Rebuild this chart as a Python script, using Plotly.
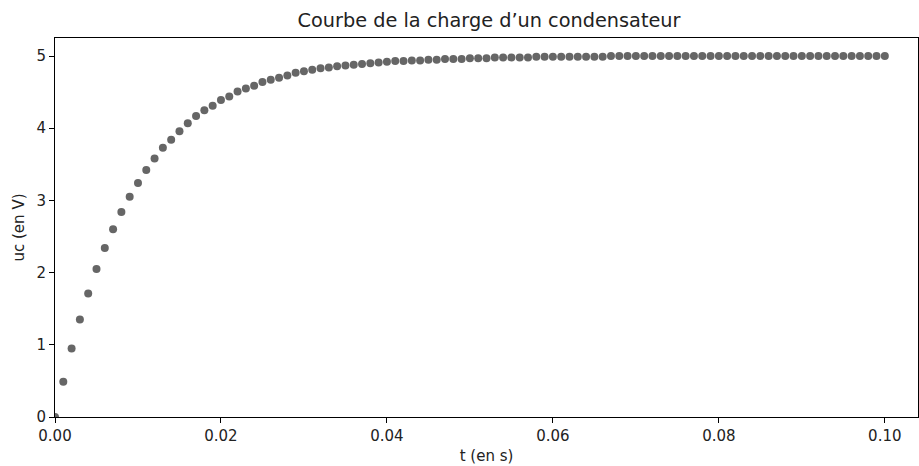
import plotly.graph_objects as go

t_values = [round(i * 0.001, 3) for i in range(101)]
uc_values = [
    0.00, 0.49, 0.95, 1.35, 1.71, 2.05, 2.34, 2.60, 2.84, 3.05,
    3.24, 3.42, 3.58, 3.73, 3.84, 3.96, 4.07, 4.17, 4.25, 4.31,
    4.39, 4.44, 4.51, 4.55, 4.59, 4.64, 4.67, 4.70, 4.73, 4.77,
    4.79, 4.81, 4.83, 4.84, 4.86, 4.87, 4.88, 4.89, 4.90, 4.91,
    4.92, 4.93, 4.93, 4.94, 4.94, 4.95, 4.95, 4.96, 4.96, 4.96,
    4.97, 4.97, 4.97, 4.98, 4.98, 4.98, 4.98, 4.98, 4.99, 4.99,
    4.99, 4.99, 4.99, 4.99, 4.99, 4.99, 4.99, 5.00, 5.00, 5.00,
    5.00, 5.00, 5.00, 5.00, 5.00, 5.00, 5.00, 5.00, 5.00, 5.00,
    5.00, 5.00, 5.00, 5.00, 5.00, 5.00, 5.00, 5.00, 5.00, 5.00,
    5.00, 5.00, 5.00, 5.00, 5.00, 5.00, 5.00, 5.00, 5.00, 5.00,
    5.00,
]
x_ticks = [0.0, 0.02, 0.04, 0.06, 0.08, 0.10]
x_tick_labels = ["0.00", "0.02", "0.04", "0.06", "0.08", "0.10"]
y_ticks = [0, 1, 2, 3, 4, 5]

fig = go.Figure(go.Scatter(
    x=t_values, y=uc_values, mode="markers",
    marker=dict(color="#666666", size=8, line=dict(width=0)),
    cliponaxis=True, showlegend=False,
))

W, H = 919, 466
font = "DejaVu Sans"
axis_common = dict(
    showline=True, linecolor="black", linewidth=1, mirror=True,
    ticks="outside", ticklen=5, tickwidth=1, tickcolor="black",
    showgrid=False, zeroline=False, automargin=False,
    tickfont=dict(family=font, size=15, color="#222222"),
)
fig.update_layout(
    width=W, height=H,
    margin=dict(l=55, r=1, t=38, b=49),
    paper_bgcolor="white", plot_bgcolor="white",
    title=dict(text="Courbe de la charge d\u2019un condensateur",
               x=489 / W, xanchor="center", y=1 - 20 / H, yanchor="middle",
               font=dict(family=font, size=19.3, color="#222222")),
    xaxis=dict(range=[0, 0.104], tickvals=x_ticks, ticktext=x_tick_labels,
               title=dict(text="t (en s)", font=dict(family=font, size=15, color="#222222"), standoff=6),
               **axis_common),
    yaxis=dict(range=[0, 5.25], tickvals=y_ticks,
               title=dict(text="uc (en V)", font=dict(family=font, size=15, color="#222222"), standoff=8),
               **axis_common),
)
fig.write_html(
    "out.html",
    config={"displayModeBar": False, "staticPlot": True},
    post_script="document.body.style.margin='0';document.body.style.overflow='hidden';",
)
